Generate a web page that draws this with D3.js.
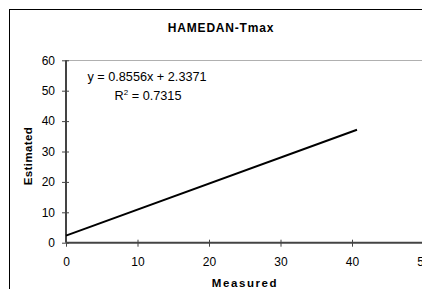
<!DOCTYPE html>
<html>
<head>
<meta charset="utf-8">
<script src="https://cdn.jsdelivr.net/npm/d3@7"></script>
<style>
  body { margin: 0; background: #fff; }
  svg { display: block; font-family: "Liberation Sans", Arial, sans-serif; }
</style>
</head>
<body>
<div id="g-container"></div>
<script>
	// data
	var title = "HAMEDAN-Tmax"
	var xTicks = [0, 10, 20, 30, 40, 50]
	var yTicks = [0, 10, 20, 30, 40, 50, 60]
	var trendX = [0, 40.7]
	var trendY = [2.34, 37.16]
	var eqLines = ["y = 0.8556x + 2.3371", "R", "2", " = 0.7315"]

	var width = 422, height = 289
	var svg = d3.select("#g-container").append("svg").attr("width", width).attr("height", height)

	// chart frame (runs off the right and bottom edge)
	svg.append("rect").attr("x", 9.5).attr("y", 9.5).attr("width", 600).attr("height", 400)
		.attr("fill", "none").attr("stroke", "#000").attr("stroke-width", 1)

	var x = d3.scaleLinear().domain([0, 50]).range([66, 423.5])
	var y = d3.scaleLinear().domain([0, 60]).range([242.7, 60.3])

	// top grid line at 60
	svg.append("line").attr("x1", x(0)).attr("x2", width).attr("y1", Math.round(y(60)) + 0.5).attr("y2", Math.round(y(60)) + 0.5)
		.attr("stroke", "#b0b0b0").attr("stroke-width", 1)

	var yAxis = svg.append("g").attr("transform", "translate(" + x(0) + ",0)")
		.call(d3.axisLeft(y).tickValues(yTicks).tickSize(4).tickPadding(7))
	var xAxis = svg.append("g").attr("transform", "translate(0," + y(0) + ")")
		.call(d3.axisBottom(x).tickValues(xTicks).tickSize(4).tickPadding(11))

	;[yAxis, xAxis].forEach(function(ax){
		ax.select(".domain").remove()
		ax.selectAll("text").style("font-size", "12px").style("font-family", "Liberation Sans, Arial, sans-serif").attr("fill", "#000")
		ax.selectAll(".tick line").attr("stroke", "#444").attr("stroke-width", 1)
	})
	// cross ticks
	yAxis.selectAll(".tick line").attr("x1", 3)
	xAxis.selectAll(".tick line").attr("y1", -3)

	svg.append("line").attr("x1", x(0)).attr("x2", x(0)).attr("y1", y(60)).attr("y2", y(0))
		.attr("stroke", "#444").attr("stroke-width", 2)
	svg.append("line").attr("x1", x(0)).attr("x2", width).attr("y1", y(0)).attr("y2", y(0))
		.attr("stroke", "#444").attr("stroke-width", 2)

	// trend line
	var line = d3.line().x(function(d, i){ return x(trendX[i]) }).y(function(d){ return y(d) })
	svg.append("path").datum(trendY).attr("d", line)
		.attr("fill", "none").attr("stroke", "#000").attr("stroke-width", 2)

	// equation
	svg.append("text").attr("x", 147).attr("y", 81).attr("text-anchor", "middle")
		.style("font-size", "12.7px").text(eqLines[0])
	var r2 = svg.append("text").attr("x", 148).attr("y", 100).attr("text-anchor", "middle").style("font-size", "12.7px")
	r2.append("tspan").text(eqLines[1])
	r2.append("tspan").attr("dy", -5).style("font-size", "8px").text(eqLines[2])
	r2.append("tspan").attr("dy", 5).text(eqLines[3])

	// titles
	svg.append("text").attr("x", 221).attr("y", 32).attr("text-anchor", "middle")
		.style("font-size", "12px").style("font-weight", "bold").style("letter-spacing", "0.8px").text(title)
	svg.append("text").attr("x", 245).attr("y", 286.5).attr("text-anchor", "middle")
		.style("font-size", "11.5px").style("font-weight", "bold").style("letter-spacing", "1.6px").text("Measured")
	svg.append("text").attr("transform", "translate(32,156) rotate(-90)").attr("text-anchor", "middle")
		.style("font-size", "11.5px").style("font-weight", "bold").style("letter-spacing", "0.4px").text("Estimated")
</script>
</body>
</html>
